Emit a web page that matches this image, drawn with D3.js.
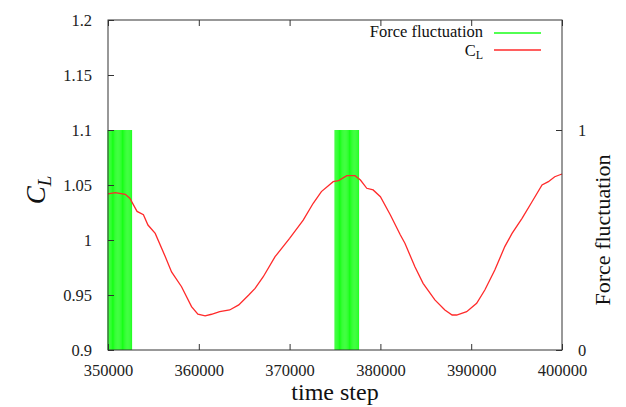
<!DOCTYPE html>
<html>
<head>
<meta charset="utf-8">
<script src="https://cdn.jsdelivr.net/npm/d3@7"></script>
<style>
  body { margin: 0; background: #fff; }
  svg { display: block; font-family: "Liberation Serif", "DejaVu Serif", serif; }
</style>
</head>
<body>
<svg id="chart" width="626" height="407"></svg>
<script>
// lift coefficient C_L vs time step
const clSteps = [350000, 350800, 351900, 352400, 353200, 353900, 354400, 355200, 356300, 357000,
  358100, 359200, 359900, 360700, 361400, 362300, 363400, 364400, 365500, 366200,
  367100, 368400, 370000, 371500, 372600, 373500, 374800, 375400, 376300, 377200,
  377800, 378500, 379200, 380000, 381100, 382200, 382700, 383800, 384700, 386000,
  387100, 387900, 388400, 389500, 390600, 391500, 392600, 393700, 394500, 395600,
  396700, 397800, 398500, 399200, 400000];
const clValues = [1.042, 1.043, 1.0415, 1.038, 1.026, 1.023, 1.0136, 1.006, 0.985, 0.971,
  0.9575, 0.9394, 0.9325, 0.931, 0.9325, 0.9348, 0.9364, 0.941, 0.95, 0.956,
  0.9666, 0.9848, 1.0015, 1.018, 1.0334, 1.044, 1.053, 1.054, 1.0585, 1.0585,
  1.0545, 1.047, 1.0455, 1.0394, 1.0227, 1.0045, 0.997, 0.9757, 0.9606, 0.9455,
  0.9364, 0.9318, 0.9318, 0.9348, 0.9425, 0.9545, 0.9727, 0.994, 1.006, 1.0197,
  1.0348, 1.05, 1.053, 1.0575, 1.06];

// force fluctuation impulses (value 1 at these steps)
const fluctSteps = [
  350000, 350100, 350200, 350300, 350400, 350500, 350600, 350700, 350800, 350900,
  351000, 351100, 351200, 351300, 351400, 351500, 351600, 351700, 351800, 351900,
  352000, 352100, 352200, 352300, 352400, 352500, 352600,
  375000, 375100, 375200, 375300, 375400, 375500, 375600, 375700, 375800, 375900,
  376000, 376100, 376200, 376300, 376400, 376500, 376600, 376700, 376800, 376900,
  377000, 377100, 377200, 377300, 377400, 377500, 377600];
const fluctValue = 1;

const xTicks = [350000, 360000, 370000, 380000, 390000, 400000];
const yTicks = [0.9, 0.95, 1, 1.05, 1.1, 1.15, 1.2];
const y2Ticks = [0, 1];

const svg = d3.select("#chart");
const mLeft = 108, mRight = 562, mTop = 20, mBottom = 350;

const x = d3.scaleLinear().domain([350000, 400000]).range([mLeft, mRight]);
const y = d3.scaleLinear().domain([0.9, 1.2]).range([mBottom, mTop]);
const y2 = d3.scaleLinear().domain([0, 1.5]).range([mBottom, mTop]);

// green impulses
svg.append("g").selectAll("line")
  .data(fluctSteps)
  .enter()
  .append("line")
  .attr("x1", d => x(d)).attr("x2", d => x(d))
  .attr("y1", y2(0)).attr("y2", y2(fluctValue))
  .style("stroke", "#00ff00")
  .style("stroke-width", 1)
  .style("opacity", 0.9);

// C_L curve
const line = d3.line()
  .x((d, i) => x(clSteps[i]))
  .y(d => y(d));
svg.append("path")
  .datum(clValues)
  .attr("d", line)
  .style("fill", "none")
  .style("stroke", "#ff2a2a")
  .style("stroke-width", 1.3);

// axes with inward ticks (gnuplot look)
const axisColor = "#333";
function styleAxis(g) {
  g.select(".domain").remove();
  g.selectAll(".tick line").attr("stroke", axisColor);
  g.selectAll(".tick text")
    .attr("fill", "#222")
    .style("font-family", '"Liberation Serif", serif')
    .style("font-size", "16.5px");
}

svg.append("g")
  .attr("transform", `translate(0,${mBottom})`)
  .call(d3.axisBottom(x).tickValues(xTicks).tickFormat(d3.format("d")).tickSizeInner(-6).tickPadding(14))
  .call(styleAxis);

svg.append("g")
  .attr("transform", `translate(0,${mTop})`)
  .call(d3.axisTop(x).tickValues(xTicks).tickFormat("").tickSizeInner(-6))
  .call(styleAxis);

svg.append("g")
  .attr("transform", `translate(${mLeft},0)`)
  .call(d3.axisLeft(y).tickValues(yTicks).tickFormat(d => d3.format("")(+d.toFixed(2))).tickSizeInner(-6).tickPadding(16))
  .call(styleAxis);

svg.append("g")
  .attr("transform", `translate(${mRight},0)`)
  .call(d3.axisRight(y2).tickValues(y2Ticks).tickFormat(d3.format("d")).tickSizeInner(-6).tickPadding(16))
  .call(styleAxis);

// border
svg.append("rect")
  .attr("x", mLeft).attr("y", mTop)
  .attr("width", mRight - mLeft).attr("height", mBottom - mTop)
  .style("fill", "none")
  .style("stroke", axisColor)
  .style("stroke-width", 1);

// axis titles
svg.append("text")
  .attr("x", (mLeft + mRight) / 2).attr("y", 400)
  .attr("text-anchor", "middle")
  .style("font-size", "24px")
  .attr("fill", "#111")
  .text("time step");

const cl = svg.append("text")
  .attr("transform", "translate(45,190) rotate(-90)")
  .attr("text-anchor", "middle")
  .attr("fill", "#111")
  .style("font-size", "27px")
  .style("font-style", "italic");
cl.append("tspan").text("C");
cl.append("tspan").attr("dy", 6).style("font-size", "19px").text("L");

svg.append("text")
  .attr("transform", "translate(610,230) rotate(-90)")
  .attr("text-anchor", "middle")
  .attr("fill", "#111")
  .style("font-size", "22px")
  .text("Force fluctuation");

// legend
const legend = svg.append("g").style("font-size", "16.5px").attr("fill", "#111");
legend.append("text")
  .attr("x", 483).attr("y", 37)
  .attr("text-anchor", "end")
  .text("Force fluctuation");
legend.append("line")
  .attr("x1", 494).attr("x2", 541).attr("y1", 33).attr("y2", 33)
  .style("stroke", "#00ff00").style("stroke-width", 1.3).style("opacity", 0.9);
const lc = legend.append("text")
  .attr("x", 483).attr("y", 56)
  .attr("text-anchor", "end");
lc.append("tspan").text("C");
lc.append("tspan").attr("dy", 3).style("font-size", "12px").text("L");
legend.append("line")
  .attr("x1", 494).attr("x2", 541).attr("y1", 50).attr("y2", 50)
  .style("stroke", "#ff2a2a").style("stroke-width", 1.3);
</script>
</body>
</html>
